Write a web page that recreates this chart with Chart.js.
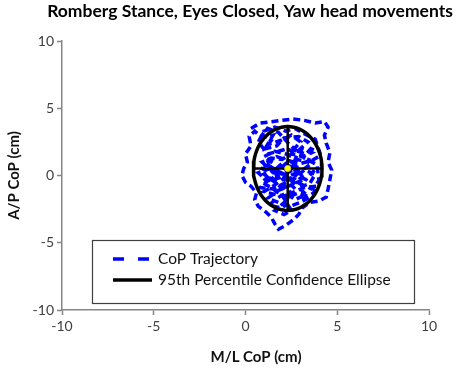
<!DOCTYPE html>
<html>
<head>
<meta charset="utf-8">
<script src="https://cdn.jsdelivr.net/npm/chart.js@4/dist/chart.umd.min.js"></script>
<style>
  html, body { margin: 0; padding: 0; background: #fff; }
  #wrap { width: 459px; height: 370px; }
</style>
</head>
<body>
<div id="wrap"><canvas id="myChart" width="459" height="370"></canvas></div>
<script>
// text
const chartTitle = 'Romberg Stance, Eyes Closed, Yaw head movements';
const xTitle = 'M/L CoP (cm)';
const yTitle = 'A/P CoP (cm)';
const legendLabels = ['CoP Trajectory', '95th Percentile Confidence Ellipse'];

// axis range / ticks
const axisMin = -10;
const axisMax = 10;
const tickStep = 5;

// CoP trajectory (cm)
const trajX = [0.3, 0.8, 1.4, 2.0, 2.6, 3.2, 3.8, 4.3, 4.5, 4.3, 4.4, 4.6, 4.5, 4.7, 4.6, 4.5, 4.4, 4.0, 3.5, 3.1,
  2.9, 2.6, 2.2, 1.8, 1.6, 1.4, 1.1, 0.7, 0.5, 0.6, 0.3, 0.0, -0.2, -0.1, 0.1, 0.0, 0.3, 0.2, 0.5,
  0.9, 1.5, 1.2, 1.9, 2.5, 3.0, 2.6, 3.3, 3.7, 3.4, 2.8, 2.2, 1.6, 1.0, 1.5, 0.8, 1.3, 1.9, 2.4, 1.8,
  1.2, 0.8, 1.5, 2.1, 2.7, 3.2, 3.8, 3.5, 2.9, 3.3, 2.7, 2.2, 1.7, 1.3, 1.9, 2.4, 2.0, 1.4, 2.2, 2.9,
  2.5, 1.9, 1.1, 1.7, 2.6, 3.1, 2.3, 1.6, 1.0, 1.5, 2.1, 2.8, 3.6, 4.0, 3.9, 3.2, 2.4, 1.8, 1.2,
  0.9, 1.4, 1.1, 1.7, 2.1, 2.9, 3.4, 3.0, 3.6, 3.1, 2.5, 2.0, 1.4, 0.9, 1.3, 0.7, 1.1, 1.7, 2.3, 2.9,
  3.4, 3.7, 3.3, 2.6, 2.0, 1.5, 1.0, 1.6, 2.3, 2.9, 3.5, 3.0, 2.4, 1.8, 1.2, 1.8, 2.5, 3.0, 2.6, 2.0,
  1.5, 2.1, 2.7, 2.2, 1.6, 2.1, 2.5, 2.0, 1.4, 0.9, 1.3, 1.8, 2.4, 3.0, 3.6, 4.1, 3.8, 3.2, 2.7, 2.2,
  1.6, 1.0, 0.7, 1.2, 1.8, 2.3, 2.8, 2.4, 1.9, 2.5, 3.2, 3.9, 3.7, 3.1];
const trajY = [3.5, 3.9, 4.0, 4.1, 4.2, 4.1, 3.9, 4.0, 3.6, 3.0, 2.4, 1.7, 1.0, 0.4, -0.3, -1.0, -1.6, -1.9, -2.0, -2.4,
  -2.9, -3.3, -3.7, -4.0, -3.6, -3.1, -2.7, -2.3, -1.8, -1.3, -0.8, -0.5, 0.0, 0.5, 1.0, 1.6, 2.2, 2.9, 3.3,
  2.8, 3.0, 2.3, 2.6, 3.0, 2.5, 1.9, 1.6, 2.2, 1.0, 1.2, 1.6, 1.8, 1.4, 0.9, 0.6, 0.2, 0.7, 0.3, -0.2,
  -0.4, -0.9, -1.0, -0.6, -0.2, 0.4, 0.1, -0.6, -0.9, -1.4, -1.8, -1.3, -1.7, -2.2, -2.4, -2.1, -1.0, -0.1, 0.9, 0.6,
  -0.4, 0.2, 0.9, 1.4, 1.0, -0.1, -0.9, -0.5, 0.1, 0.5, 0.1, -0.5, -1.0, -0.4, 0.8, 1.3, 2.3, 3.2, 3.5,
  3.0, 2.6, 2.0, 2.2, 2.8, 2.9, 2.5, 2.0, 1.7, 1.4, 1.6, 1.2, 1.3, 1.0, 0.5, 0.2, -0.3, 0.0, 0.5, 0.2,
  0.7, 0.3, -0.3, 0.1, -0.3, -0.8, -1.2, -1.4, -1.6, -1.3, -1.6, -2.0, -2.3, -2.0, -1.7, -1.1, -0.7, -0.4, 0.6, 0.9,
  0.3, -0.1, -1.0, -1.9, -2.6, -2.9, -2.6, -1.5, -0.9, -0.5, 0.0, 0.5, 1.0, 0.9, 1.1, 1.5, 2.7, 3.1, 3.5, 3.3,
  3.6, 3.3, 2.5, 1.6, 1.8, 2.0, 1.5, 0.2, -0.6, -1.3, -0.9, -0.8, -1.3, -1.8];

// 95% confidence ellipse: centre and semi-axes (cm)
const ellipseCenter = [2.3, 0.52];
const ellipseRadii = [1.87, 3.12];

const trajectory = trajX.map((x, i) => ({ x: x, y: trajY[i] }));

const ellipse = [];
for (let i = 0; i <= 72; i++) {
  const t = i / 72 * 2 * Math.PI;
  ellipse.push({ x: ellipseCenter[0] + ellipseRadii[0] * Math.cos(t), y: ellipseCenter[1] + ellipseRadii[1] * Math.sin(t) });
}
const crossV = [{ x: ellipseCenter[0], y: ellipseCenter[1] - ellipseRadii[1] }, { x: ellipseCenter[0], y: ellipseCenter[1] + ellipseRadii[1] }];
const crossH = [{ x: ellipseCenter[0] - ellipseRadii[0], y: ellipseCenter[1] }, { x: ellipseCenter[0] + ellipseRadii[0], y: ellipseCenter[1] }];

const textFont = 'Lato, "Open Sans", sans-serif';
const axisColor = '#868686';
const tickColor = '#404040';

// title, x-axis title and boxed legend drawn on the canvas
const extras = {
  id: 'extras',
  afterDraw(chart) {
    const ctx = chart.ctx;
    ctx.save();
    ctx.fillStyle = '#000';
    ctx.font = 'bold 17.5px ' + textFont;
    ctx.textAlign = 'center';
    ctx.textBaseline = 'middle';
    ctx.fillText(chartTitle, 250, 11);

    ctx.fillStyle = '#111';
    ctx.font = 'bold 15px ' + textFont;
    ctx.fillText(xTitle, 256, 357);

    // legend box
    ctx.strokeStyle = '#404040';
    ctx.lineWidth = 1.2;
    ctx.strokeRect(92.5, 240.5, 322, 63);

    ctx.lineWidth = 3.5;
    ctx.strokeStyle = '#0000ff';
    ctx.setLineDash([11, 14]);
    ctx.beginPath(); ctx.moveTo(113, 259); ctx.lineTo(153, 259); ctx.stroke();
    ctx.setLineDash([]);
    ctx.strokeStyle = '#000';
    ctx.lineWidth = 3.5;
    ctx.beginPath(); ctx.moveTo(113, 280); ctx.lineTo(152, 280); ctx.stroke();

    ctx.fillStyle = '#111';
    ctx.font = '15.5px ' + textFont;
    ctx.textAlign = 'left';
    ctx.fillText(legendLabels[0], 158, 259);
    ctx.fillText(legendLabels[1], 158, 280);
    ctx.restore();
  }
};

function axis(title, isX) {
  return {
    type: 'linear',
    min: axisMin,
    max: axisMax,
    ticks: { stepSize: tickStep, color: tickColor, font: { family: textFont, size: 14 }, padding: 3, maxRotation: 0 },
    grid: { display: true, drawOnChartArea: false, drawTicks: true, tickLength: 5, tickColor: axisColor, tickWidth: 1.5 },
    border: { display: true, color: axisColor, width: 1.5 },
    title: { display: !isX, text: title, color: '#111', font: { family: textFont, size: 15, weight: 'bold' },
      padding: { top: 5, bottom: 0 } },
    afterFit(scale) {
      if (isX) scale.height = 60; else scale.width = 62;
    }
  };
}

new Chart(document.getElementById('myChart'), {
  type: 'scatter',
  data: {
    datasets: [
      { label: 'centre', data: [{ x: ellipseCenter[0], y: ellipseCenter[1] }], pointRadius: 3, pointBackgroundColor: '#ffff00', pointBorderColor: '#e6e600', pointBorderWidth: 1, order: 1 },
      { label: 'crossV', data: crossV, showLine: true, borderColor: '#000', borderWidth: 2.5, pointRadius: 0, order: 2 },
      { label: 'crossH', data: crossH, showLine: true, borderColor: '#000', borderWidth: 2.5, pointRadius: 0, order: 2 },
      { label: legendLabels[1], data: ellipse, showLine: true, borderColor: '#000', borderWidth: 3.5, pointRadius: 0, tension: 0, order: 3 },
      { label: legendLabels[0], data: trajectory, showLine: true, borderColor: '#0000ff', borderWidth: 3.5, borderDash: [7, 4], pointRadius: 0, tension: 0, order: 4 }
    ]
  },
  options: {
    responsive: false,
    animation: false,
    layout: { padding: { left: 0, top: 41, right: 30, bottom: 0 } },
    plugins: { legend: { display: false }, tooltip: { enabled: false } },
    scales: { x: axis(xTitle, true), y: axis(yTitle, false) }
  },
  plugins: [extras]
});
</script>
</body>
</html>
